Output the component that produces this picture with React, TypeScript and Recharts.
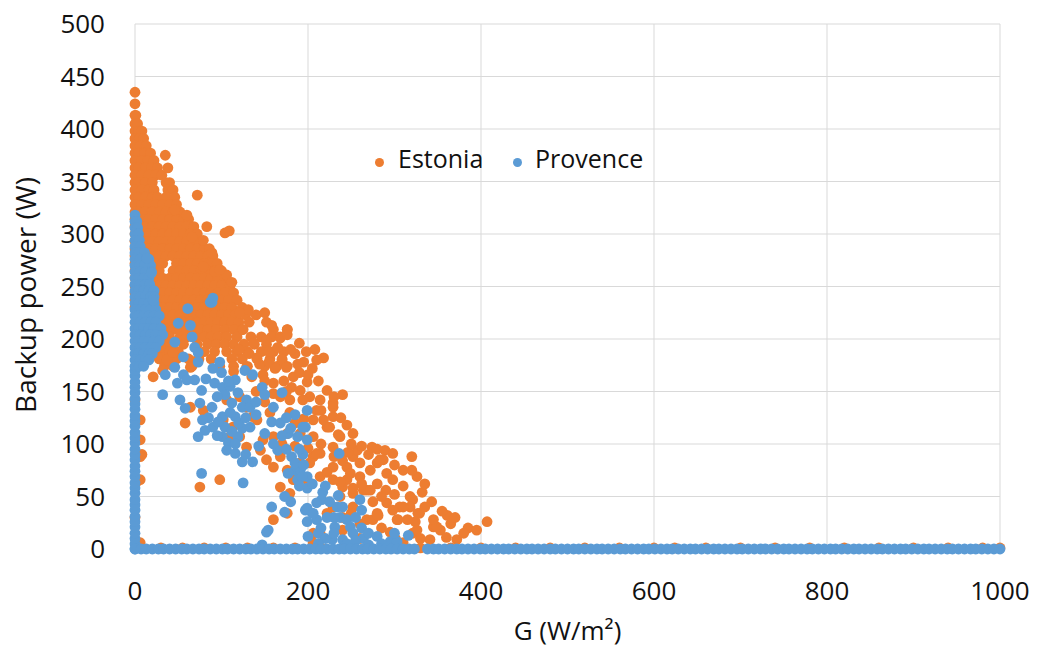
import { CartesianGrid, Label, Scatter, ScatterChart, XAxis, YAxis } from "recharts";

const FONT = '"Open Sans", sans-serif';
const ORANGE = "#ED7D31";
const BLUE = "#5B9BD5";
const TEXT = "#111";

const xTicks = [0, 200, 400, 600, 800, 1000];
const yTicks = [0, 50, 100, 150, 200, 250, 300, 350, 400, 450, 500];

// Estonia: dense wedge near G = 0, one row per backup-power level -> list of G values
const estoniaRows: [number, number[]][] = [
  [435, [0]],
  [424, [0]],
  [413, [0, 1]],
  [405, [0, 3]],
  [398, [0, 4, 8]],
  [391, [0, 5, 10]],
  [384, [0, 6, 13]],
  [377, [0, 4, 11, 18]],
  [370, [0, 8, 15, 22]],
  [363, [0, 4, 12, 19, 26]],
  [356, [0, 8, 16, 24, 31]],
  [349, [0, 4, 12, 20, 36, 40]],
  [342, [0, 8, 16, 22, 38, 44]],
  [335, [0, 4, 12, 20, 26, 36, 46]],
  [328, [0, 8, 16, 24, 32, 40, 48]],
  [321, [0, 4, 12, 20, 28, 36, 44, 52]],
  [314, [0, 8, 16, 24, 32, 40, 48, 56, 62]],
  [307, [0, 4, 12, 20, 28, 36, 44, 52, 60, 68]],
  [300, [0, 8, 16, 24, 32, 40, 48, 56, 64, 72]],
  [293, [0, 4, 12, 20, 28, 36, 44, 52, 60, 68, 76]],
  [286, [0, 8, 16, 24, 32, 40, 48, 56, 64, 72, 80, 86]],
  [279, [0, 4, 12, 20, 28, 36, 44, 52, 60, 68, 76, 84, 90]],
  [272, [0, 8, 16, 24, 32, 48, 56, 64, 72, 80, 88, 95]],
  [265, [0, 4, 12, 20, 28, 44, 52, 60, 68, 76, 84, 92, 100]],
  [258, [0, 8, 16, 24, 32, 40, 48, 56, 64, 72, 80, 88, 96, 104]],
  [251, [0, 4, 12, 20, 28, 36, 44, 52, 60, 68, 76, 84, 92, 100, 110]],
  [244, [0, 8, 16, 24, 32, 40, 48, 56, 64, 72, 80, 88, 96, 104, 114]],
  [237, [0, 4, 12, 20, 28, 36, 44, 52, 60, 68, 76, 84, 92, 100, 108, 118]],
  [230, [0, 8, 16, 24, 32, 40, 48, 56, 64, 72, 80, 88, 96, 104, 112, 124]],
  [223, [4, 12, 20, 28, 36, 44, 52, 60, 68, 76, 84, 92, 100, 108, 116, 128, 140]],
  [216, [8, 16, 24, 32, 40, 48, 56, 64, 72, 80, 88, 96, 104, 112, 120, 132, 152]],
  [209, [12, 20, 28, 36, 44, 52, 60, 68, 76, 84, 94, 104, 114, 124, 160, 176]],
  [202, [16, 24, 32, 40, 52, 60, 70, 80, 88, 96, 106, 118, 134, 146, 158, 168]],
  [195, [20, 28, 36, 44, 56, 72, 84, 94, 104, 114, 126, 138, 152]],
  [188, [24, 32, 40, 50, 80, 92, 106, 118, 130, 146, 160, 172]],
  [181, [28, 38, 48, 62, 74, 88, 112, 124, 141, 156, 170]],
  [174, [34, 44, 66, 98, 114, 130, 150, 164, 176]],
];

// Estonia: scattered points [G, power]
const estoniaScatter: [number, number][] = [
  [35, 375], [38, 363], [72, 337], [46, 323], [60, 318], [83, 307], [104, 301], [109, 303],
  [79, 294], [89, 282], [66, 297], [79, 269], [92, 264], [106, 261], [112, 254], [98, 266],
  [131, 228], [150, 225], [158, 213], [176, 209], [168, 201], [176, 204], [152, 199], [137, 196],
  [121, 225], [125, 209], [208, 190], [218, 182], [170, 180], [175, 173], [141, 182], [129, 173],
  [114, 169], [135, 164], [148, 166], [183, 164], [199, 159], [181, 154], [191, 151], [222, 151],
  [240, 147], [202, 145], [168, 145], [179, 142], [194, 142], [214, 142], [229, 135], [210, 132],
  [179, 130], [156, 130], [136, 126], [206, 123], [229, 126], [222, 116], [237, 107], [252, 110],
  [206, 107], [191, 110], [176, 110], [160, 107], [148, 104], [129, 97], [145, 94], [152, 85],
  [168, 88], [160, 78], [176, 75], [191, 82], [206, 88], [214, 91], [229, 78], [245, 78],
  [252, 88], [257, 94], [274, 97], [289, 94], [298, 91], [320, 88], [287, 85], [280, 82],
  [272, 75], [291, 72], [298, 66], [326, 69], [260, 69], [245, 66], [229, 66], [214, 69],
  [199, 66], [183, 66], [168, 59], [179, 53], [240, 59], [252, 53], [268, 56], [237, 50],
  [291, 44], [306, 40], [321, 47], [332, 54], [343, 45], [280, 34], [268, 28], [329, 34],
  [303, 28], [160, 28], [176, 34], [206, 15], [214, 15], [353, 18], [345, 21], [321, 15],
  [341, 9], [360, 11], [75, 59], [98, 66], [58, 120], [21, 164], [32, 170], [37, 180],
  [44, 187], [29, 192], [64, 173], [72, 180], [64, 135], [79, 132], [102, 123], [113, 116],
  [106, 142], [121, 145], [129, 135], [141, 123], [121, 107], [110, 107], [6, 104], [8, 90],
  [6, 66], [0, 142], [240, 30], [252, 40], [222, 34], [229, 40], [229, 139], [218, 123],
  [225, 116], [235, 109], [246, 92], [210, 91], [229, 97], [260, 82], [283, 85], [249, 72],
  [237, 64], [222, 73], [202, 82], [264, 56], [252, 58], [272, 56], [318, 50], [298, 37],
  [318, 40], [327, 34], [361, 32], [407, 26], [385, 20], [349, 21], [372, 9], [324, 26],
  [326, 18], [304, 28], [275, 28], [281, 32], [301, 10], [310, 6], [206, 6], [6, 123],
  [6, 88], [2, 64], [0, 30], [6, 6], [155, 188], [165, 192], [185, 186], [195, 178],
  [160, 158], [172, 160], [190, 168], [205, 172], [150, 140], [140, 150], [185, 120], [195, 124],
  [170, 100], [185, 98], [200, 96], [215, 100], [230, 88], [240, 84], [262, 62], [280, 62],
  [290, 56], [300, 52], [310, 60], [275, 45], [285, 50], [250, 34], [260, 24], [285, 20],
  [295, 16], [330, 10], [315, 28], [335, 40], [345, 28], [365, 24], [380, 15], [260, 10],
  [240, 18], [120, 190], [132, 186], [144, 176], [155, 178], [162, 172], [188, 176], [198, 188],
  [190, 196], [180, 190], [210, 180], [200, 166], [212, 160], [160, 148], [150, 160], [175, 150],
  [230, 145], [215, 132], [238, 125], [245, 118], [250, 100], [262, 98], [270, 90], [280, 95],
  [300, 80], [310, 75], [320, 75], [335, 62], [310, 40], [355, 36], [370, 30], [395, 18],
];

// Estonia: points sitting on the zero line (mostly hidden under Provence)
const estoniaZeroG = [
  8, 30, 55, 80, 105, 130, 160, 185, 215, 240, 270, 300, 330, 365, 400, 440, 480, 520,
  560, 600, 624, 660, 700, 740, 780, 820, 860, 900, 940, 980, 1000,
];

// Provence: column at G = 0 (backup power values)
const provenceColumnP = [
  0, 5, 10, 15, 21, 26, 31, 37, 42, 47, 53, 58, 63, 69, 74, 79, 85, 90, 95, 101, 106, 111,
  117, 122, 127, 133, 138, 143, 149, 154, 159, 165, 170,
];

// Provence: dense block near G = 0
const provenceRows: [number, number[]][] = [
  [318, [0]],
  [312, [0, 2]],
  [306, [0, 3]],
  [300, [0, 4]],
  [294, [0, 5]],
  [288, [0, 6]],
  [282, [0, 5, 11]],
  [276, [0, 6, 13, 16]],
  [270, [0, 5, 11, 18]],
  [264, [0, 6, 12, 19]],
  [258, [0, 4, 10, 16]],
  [252, [0, 6, 12, 17]],
  [246, [0, 4, 10, 16, 22]],
  [240, [0, 6, 12, 18, 22]],
  [234, [0, 4, 10, 16, 22]],
  [228, [0, 6, 12, 18, 24]],
  [222, [0, 4, 10, 16, 22, 28]],
  [216, [0, 6, 12, 18, 24]],
  [210, [0, 4, 10, 16, 22, 30]],
  [204, [0, 6, 12, 18, 24, 32]],
  [198, [0, 4, 10, 16, 22, 28]],
  [192, [0, 6, 12, 18, 24]],
  [186, [0, 4, 10, 16, 20]],
  [180, [0, 6, 12, 16]],
  [174, [0, 5, 10]],
];

// Provence: scattered points [G, power]
const provenceScatter: [number, number][] = [
  [89, 235], [61, 229], [87, 235], [90, 239], [50, 215], [64, 213], [46, 197], [66, 202],
  [69, 192], [73, 187], [56, 183], [73, 178], [46, 173], [56, 166], [35, 166], [49, 158],
  [60, 161], [69, 161], [32, 147], [52, 142], [58, 134], [77, 151], [75, 139], [90, 172],
  [100, 168], [116, 161], [127, 170], [136, 166], [92, 158], [101, 154], [104, 147], [119, 149],
  [129, 142], [147, 154], [150, 147], [170, 149], [89, 135], [112, 139], [124, 135], [101, 126],
  [116, 126], [133, 135], [90, 116], [104, 116], [124, 115], [133, 116], [81, 113], [73, 107],
  [101, 107], [108, 101], [119, 107], [106, 94], [116, 91], [124, 83], [136, 83], [158, 121],
  [168, 120], [185, 128], [199, 132], [177, 110], [188, 107], [197, 116], [165, 94], [181, 88],
  [185, 75], [177, 72], [191, 75], [188, 66], [199, 69], [199, 58], [173, 50], [158, 40],
  [173, 35], [154, 18], [197, 37], [205, 34], [210, 28], [212, 15], [77, 72], [125, 63],
  [147, 4], [152, 16], [194, 116], [199, 104], [194, 90], [236, 91], [193, 69], [217, 54],
  [235, 51], [216, 47], [210, 44], [260, 47], [262, 37], [199, 39], [206, 34], [234, 40],
  [222, 30], [237, 30], [245, 28], [199, 26], [231, 21], [249, 21], [262, 20], [264, 10],
  [252, 15], [228, 9], [240, 9], [295, 7], [303, 7], [316, 13], [14, 277], [19, 263],
  [21, 237], [220, 10], [245, 5], [255, 8], [270, 4], [212, 5], [95, 145], [110, 155],
  [85, 125], [96, 121], [110, 130], [120, 120], [112, 112], [95, 108], [128, 125], [140, 140],
  [160, 135], [175, 125], [180, 115], [170, 108], [160, 100], [175, 95], [190, 95], [185, 82],
  [195, 80], [205, 62], [190, 60], [180, 45], [225, 45], [220, 60], [240, 40], [255, 30],
  [230, 30], [215, 20], [200, 12], [230, 15], [270, 15], [280, 12], [285, 5], [300, 15],
  [98, 178], [108, 160], [82, 162], [78, 123], [140, 128], [150, 110], [143, 98], [128, 90],
  [116, 100],
];

// Provence: zero-power row along the whole G range
const provenceZeroG = [
  0, 7, 13, 20, 27, 33, 40, 47, 54, 60, 67, 74, 80, 87, 94, 101, 107, 114, 121, 128, 134, 141,
  148, 155, 161, 168, 175, 182, 188, 195, 202, 209, 215, 222, 229, 236, 242, 249, 256, 263, 269,
  276, 283, 290, 296, 303, 310, 317, 323, 338, 345, 351, 358, 365, 372, 378, 385, 392, 399, 405,
  412, 419, 426, 432, 439, 446, 453, 459, 466, 473, 480, 486, 493, 500, 507, 513, 520, 527, 534,
  540, 547, 554, 561, 567, 574, 581, 588, 594, 601, 608, 615, 621, 628, 635, 642, 648, 655, 662,
  669, 675, 682, 689, 696, 702, 709, 716, 723, 729, 736, 743, 750, 756, 763, 770, 777, 783, 790,
  797, 804, 810, 817, 824, 831, 837, 844, 851, 858, 864, 871, 878, 885, 891, 898, 905, 912, 918,
  925, 932, 939, 945, 952, 959, 966, 972, 979, 986, 993, 1000,
];

type Pt = { g: number; p: number };

const fromRows = (rows: [number, number[]][]): Pt[] =>
  rows.flatMap(([p, gs]) => gs.map((g) => ({ g, p })));
const fromPairs = (pairs: [number, number][]): Pt[] => pairs.map(([g, p]) => ({ g, p }));

const estoniaData: Pt[] = [
  ...fromRows(estoniaRows),
  ...fromPairs(estoniaScatter),
  ...estoniaZeroG.map((g) => ({ g, p: 1 })),
];

const provenceData: Pt[] = [
  ...provenceColumnP.map((p) => ({ g: 0, p })),
  ...fromRows(provenceRows),
  ...fromPairs(provenceScatter),
  ...provenceZeroG.map((g) => ({ g, p: 0 })),
];

const DOT_R = 5.4;

const dot = (color: string) => (props: any) =>
  <circle cx={props.cx} cy={props.cy} r={DOT_R} fill={color} />;

function LegendBox() {
  const text = { position: "absolute" as const, top: 0, lineHeight: "34px", fontSize: 25, color: TEXT };
  const marker = (left: number, color: string) => ({
    position: "absolute" as const,
    left,
    top: 17,
    width: 9,
    height: 9,
    borderRadius: "50%",
    background: color,
  });
  return (
    <div style={{ position: "absolute", left: 370, top: 141, width: 300, height: 36, fontFamily: FONT }}>
      <span style={marker(5, ORANGE)} />
      <span style={{ ...text, left: 28 }}>Estonia</span>
      <span style={marker(143, BLUE)} />
      <span style={{ ...text, left: 165 }}>Provence</span>
    </div>
  );
}

const YTitle = () => (
  <text
    x={25}
    y={295}
    transform="rotate(-90 25 295)"
    textAnchor="middle"
    dominantBaseline="central"
    fontSize={28}
    fill={TEXT}
    fontFamily={FONT}
  >
    Backup power (W)
  </text>
);

export default function App() {
  const tick = { fontSize: 26, fill: TEXT, fontFamily: FONT };
  return (
    <div style={{ position: "absolute", left: 0, top: 0, width: 1039, height: 648, background: "#fff" }}>
      <ScatterChart width={1039} height={648} margin={{ top: 24, right: 39, bottom: 0, left: 0 }}>
        <CartesianGrid stroke="#D9D9D9" strokeWidth={1} />
        <XAxis
          type="number"
          dataKey="g"
          domain={[0, 1000]}
          ticks={xTicks}
          height={99}
          axisLine={false}
          tickLine={false}
          tickSize={0}
          tickMargin={33}
          tick={tick}
        >
          <Label
            value="G (W/m²)"
            position="insideBottom"
            offset={8}
            style={{ fontSize: 26, fill: TEXT, fontFamily: FONT }}
          />
        </XAxis>
        <YAxis
          type="number"
          dataKey="p"
          domain={[0, 500]}
          ticks={yTicks}
          width={135}
          axisLine={false}
          tickLine={false}
          tickSize={0}
          tickMargin={30}
          tick={tick}
        >
          <Label content={YTitle} />
        </YAxis>
        <Scatter name="Estonia" data={estoniaData} fill={ORANGE} shape={dot(ORANGE)} isAnimationActive={false} />
        <Scatter name="Provence" data={provenceData} fill={BLUE} shape={dot(BLUE)} isAnimationActive={false} />
      </ScatterChart>
      <LegendBox />
    </div>
  );
}
